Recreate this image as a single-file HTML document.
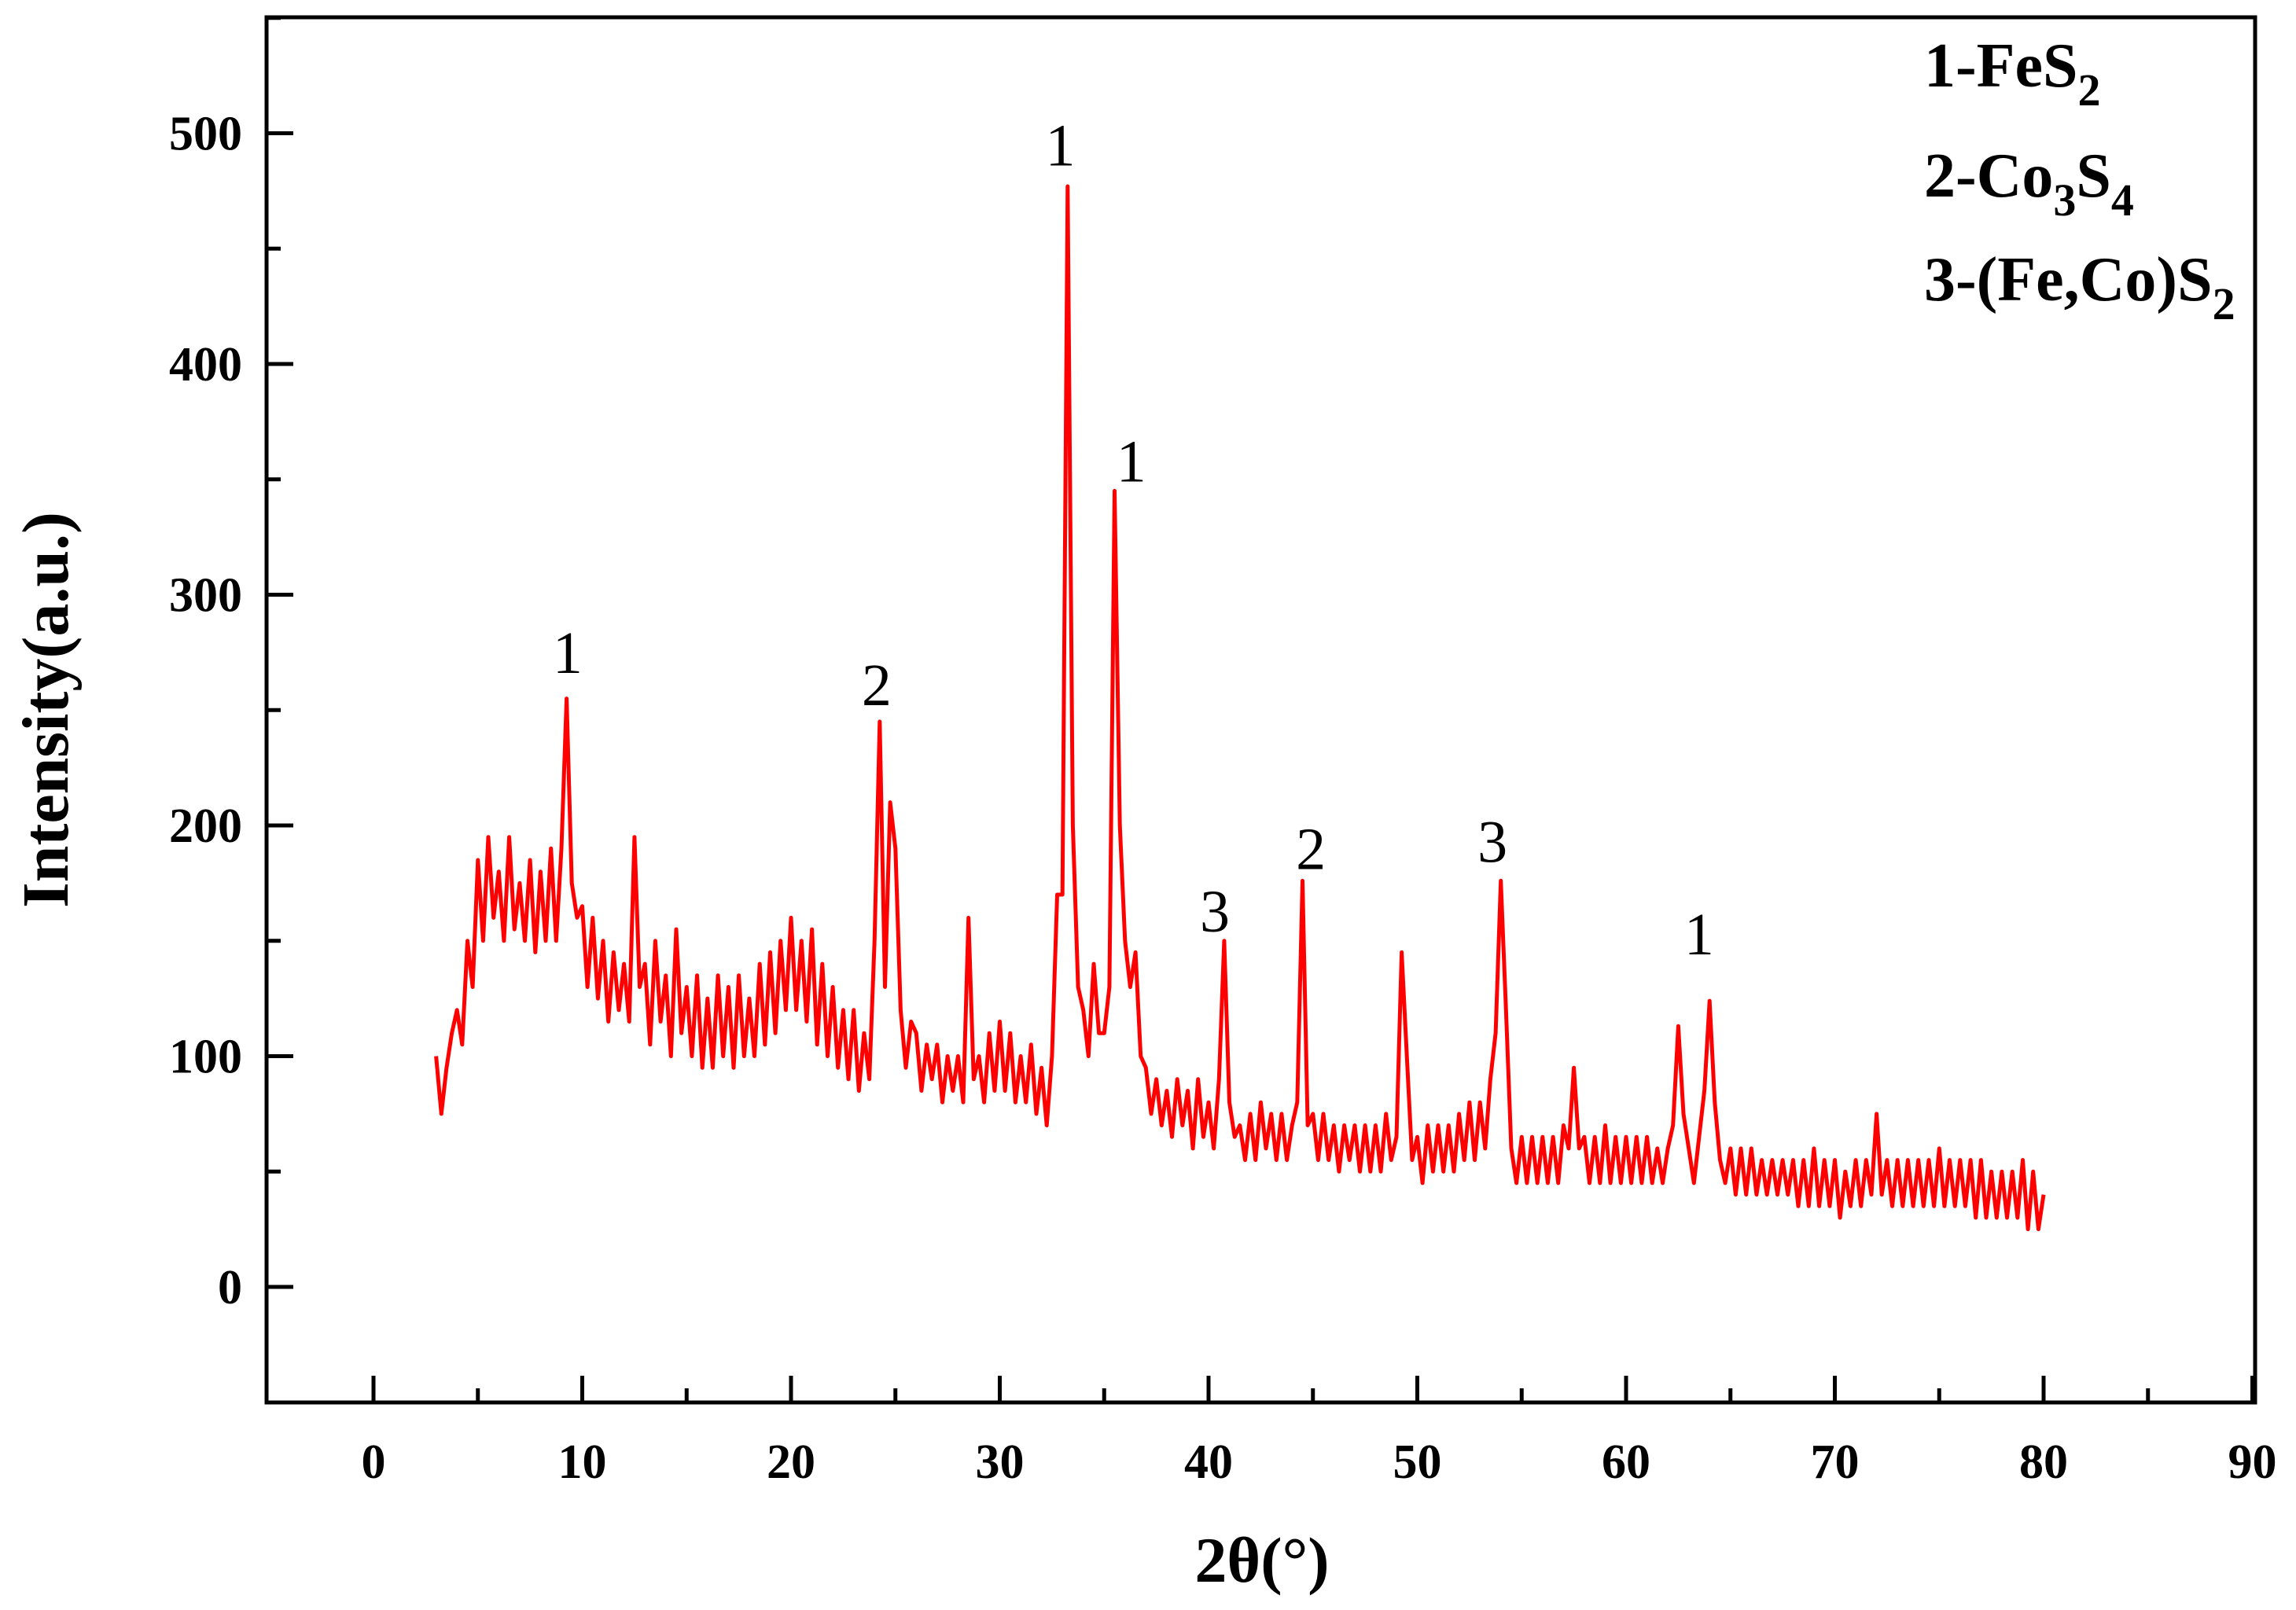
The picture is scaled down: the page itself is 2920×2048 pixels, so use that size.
<!DOCTYPE html>
<html><head><meta charset="utf-8"><style>
html,body{margin:0;padding:0;background:#fff;}
svg{display:block;}
text{font-family:"Liberation Serif","Times New Roman",serif;}
</style></head><body>
<svg id="chart" width="2920" height="2048" viewBox="0 0 2920 2048" xmlns="http://www.w3.org/2000/svg">
<rect x="339" y="22" width="2529" height="1762" fill="none" stroke="#000" stroke-width="5"/>
<g id="ticks"></g>
<g id="series"></g>
<g id="labels"></g>
<text x="1605" y="2012" font-size="82" font-weight="bold" text-anchor="middle">2θ(°)</text>
<text transform="translate(86,903) rotate(-90)" font-size="84" font-weight="bold" text-anchor="middle">Intensity(a.u.)</text>
<g font-weight="bold" font-size="80">
<text x="2447" y="110">1-FeS<tspan font-size="58" dy="24">2</tspan></text>
<text x="2447" y="250">2-Co<tspan font-size="58" dy="24">3</tspan><tspan dy="-24">S</tspan><tspan font-size="58" dy="24">4</tspan></text>
<text x="2447" y="382">3-(Fe,Co)S<tspan font-size="58" dy="24">2</tspan></text>
</g>
</svg>
<script>
const xTicks=[0,10,20,30,40,50,60,70,80,90];
const yTicks=[0,100,200,300,400,500];
const xStart=3, xStep=0.25;
const intensity=[
100,75,95,110, 120,105,150,130, 185,150,195,160, 180,150,195,155, 175,150,185,145,
180,150,190,150, 190,255,175,160, 165,130,160,125, 150,115,145,120, 140,115,195,130,
140,105,150,115, 135,100,155,110, 130,100,135,95, 125,95,135,100, 130,95,135,100,
125,100,140,105, 145,110,150,120, 160,120,150,115, 155,105,140,100, 130,95,120,90,
120,85,110,90, 150,245,130,210, 190,120,95,115, 110,85,105,90, 105,80,100,85,
100,80,160,90, 100,80,110,85, 115,85,110,80, 100,80,105,75, 95,70,100,170,
170,477,200,130, 120,100,140,110, 110,130,345,200, 150,130,145,100, 95,75,90,70,
85,65,90,70, 85,60,90,65, 80,60,90,150, 80,65,70,55, 75,55,80,60,
75,55,75,55, 70,80,176,70, 75,55,75,55, 70,50,70,55, 70,50,70,50,
70,50,75,55, 65,145,100,55, 65,45,70,50, 70,50,70,50, 75,55,80,55,
80,60,90,110, 176,120,60,45, 65,45,65,45, 65,45,65,45, 70,60,95,60,
65,45,65,45, 70,45,65,45, 65,45,65,45, 65,45,60,45, 60,70,113,75,
60,45,65,85, 124,80,55,45, 60,40,60,40, 60,40,55,40, 55,40,55,40,
55,35,55,35, 60,35,55,35, 55,30,50,35, 55,35,55,40, 75,40,55,35,
55,35,55,35, 55,35,55,35, 60,35,55,35, 55,35,55,30, 55,30,50,30,
50,30,50,30, 55,25,50,25, 40];
const peakLabels=["1","2","1","1","3","2","3","1"];
const peakX=[9.3,24.1,32.9,36.3,40.3,44.9,53.6,63.5];
const peakY=[262,248,482,345,150,177,180,140];
const NS="http://www.w3.org/2000/svg";
const X=v=>475+v*26.55;
const Y=v=>1637-v*2.935;
const tg=document.getElementById('ticks');
function mk(tag,attrs,parent){const e=document.createElementNS(NS,tag);for(const k in attrs)e.setAttribute(k,attrs[k]);parent.appendChild(e);return e;}
xTicks.forEach(t=>{
  const l=mk('line',{x1:X(t),x2:X(t),y1:1784,y2:1750,stroke:'#000','stroke-width':5},tg);
  
  
  if(t<90){const m=mk('line',{x1:X(t+5),x2:X(t+5),y1:1784,y2:1766,stroke:'#000','stroke-width':5},tg);
  
  }
  const tx=mk('text',{x:X(t),y:1880,'font-size':62,'font-weight':'bold','text-anchor':'middle'},tg);
  tx.textContent=t;
  
  
});
yTicks.forEach(t=>{
  const l=mk('line',{x1:339,x2:373,y1:Y(t),y2:Y(t),stroke:'#000','stroke-width':5},tg);
  
  
  const m=mk('line',{x1:339,x2:357,y1:Y(t+50),y2:Y(t+50),stroke:'#000','stroke-width':5},tg);
  
  
  const tx=mk('text',{x:308,y:Y(t)+21,'font-size':62,'font-weight':'bold','text-anchor':'end'},tg);
  tx.textContent=t;
  
  
});
let d='';
intensity.forEach((v,i)=>{d+=(i?'L':'M')+X(xStart+i*xStep).toFixed(1)+','+Y(v).toFixed(1);});
const p=mk('path',{d:d,fill:'none',stroke:'#ff0000','stroke-width':5,'stroke-linejoin':'round'},document.getElementById('series'));


const lg=document.getElementById('labels');
peakLabels.forEach((s,i)=>{
  const t=mk('text',{x:X(peakX[i]),y:Y(peakY[i])-12,'font-size':76,'text-anchor':'middle'},lg);
  t.textContent=s;
  
  
});
</script>
</body></html>
